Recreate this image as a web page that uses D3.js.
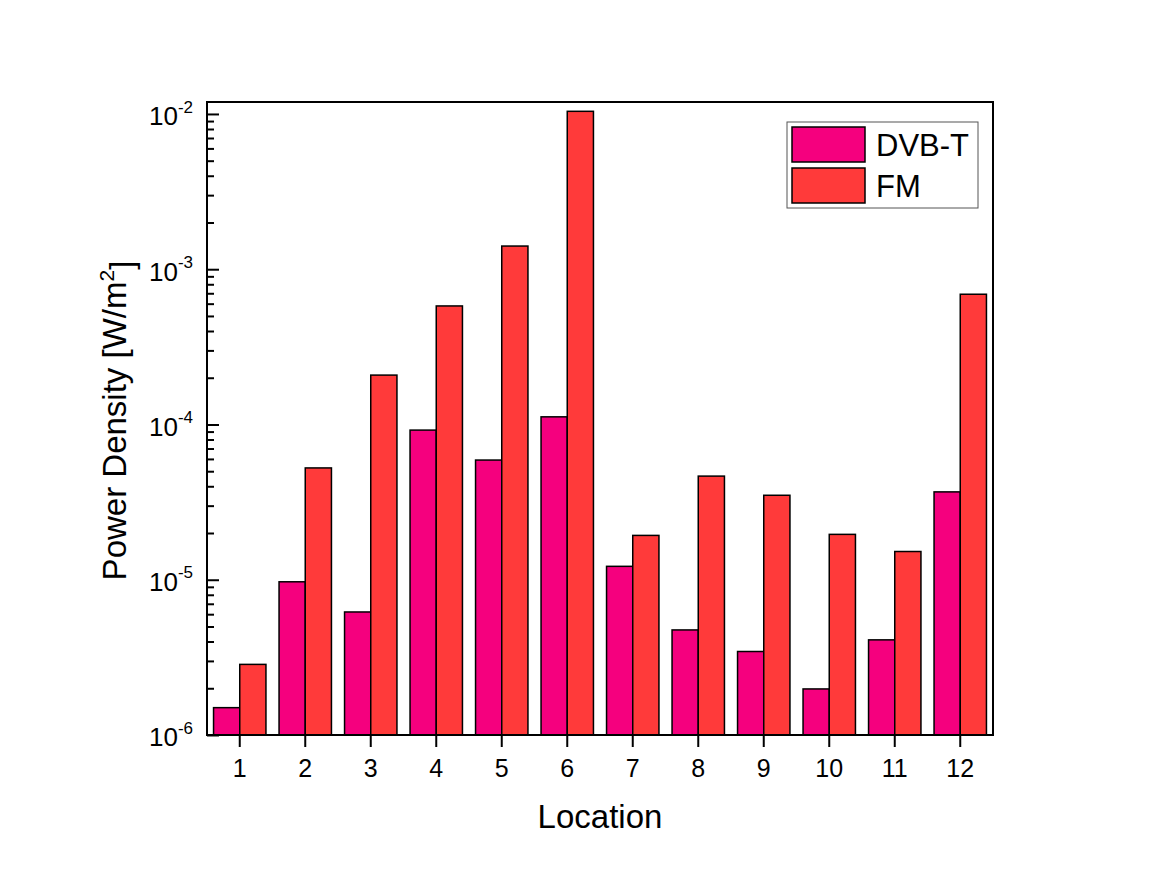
<!DOCTYPE html>
<html>
<head>
<meta charset="utf-8">
<script src="https://cdn.jsdelivr.net/npm/d3@7"></script>
<style>
  body { margin: 0; background: #fff; }
  text { font-family: Arial, "Liberation Sans", sans-serif; fill: #000; }
</style>
</head>
<body>
<div id="chart"></div>
<script>
const locations = [1, 2, 3, 4, 5, 6, 7, 8, 9, 10, 11, 12];
const seriesNames = ["DVB-T", "FM"];
const dvbt = [1.5e-6, 9.7e-6, 6.2e-6, 9.2e-5, 5.9e-5, 1.12e-4, 1.22e-5, 4.75e-6, 3.45e-6, 1.98e-6, 4.1e-6, 3.68e-5];
const fm = [2.85e-6, 5.25e-5, 2.08e-4, 5.8e-4, 1.41e-3, 1.04e-2, 1.93e-5, 4.65e-5, 3.5e-5, 1.96e-5, 1.52e-5, 6.9e-4];
const majorTicks = [1e-6, 1e-5, 1e-4, 1e-3, 1e-2];
const colors = { "DVB-T": "#F5007E", "FM": "#FF3A3A" };

const margin = { top: 102, right: 160, bottom: 147, left: 207 };
const width = 1153 - margin.left - margin.right;
const height = 882 - margin.top - margin.bottom;

const rows = locations.map((loc, i) => ({ loc, "DVB-T": dvbt[i], "FM": fm[i] }));

const svg = d3.select("#chart")
  .append("svg")
  .attr("width", 1153)
  .attr("height", 882);

const g = svg.append("g")
  .attr("transform", `translate(${margin.left},${margin.top})`);

const xScale = d3.scaleBand()
  .domain(locations)
  .range([0, width])
  .paddingInner(0.2)
  .paddingOuter(0.1);

const xSub = d3.scaleBand()
  .domain(seriesNames)
  .range([0, xScale.bandwidth()]);

const yScale = d3.scaleLog()
  .domain([1e-6, Math.pow(10, -1.923)])
  .range([height, 0]);

// bars
g.selectAll("g.group")
  .data(rows)
  .join("g")
  .attr("class", "group")
  .attr("transform", d => `translate(${xScale(d.loc)},0)`)
  .selectAll("rect")
  .data(d => seriesNames.map(s => ({ s, v: d[s] })))
  .join("rect")
  .attr("x", d => xSub(d.s))
  .attr("width", xSub.bandwidth())
  .attr("y", d => yScale(d.v))
  .attr("height", d => height - yScale(d.v))
  .attr("fill", d => colors[d.s])
  .attr("stroke", "#000")
  .attr("stroke-width", 1.5);

// x axis (outward ticks)
const xAxis = g.append("g")
  .attr("class", "x-axis")
  .attr("transform", `translate(0,${height})`)
  .call(d3.axisBottom(xScale).tickSizeInner(12).tickSizeOuter(0).tickPadding(12));
xAxis.select(".domain").remove();
xAxis.selectAll(".tick line").attr("stroke-width", 2);
xAxis.selectAll(".tick text").style("font-size", "25px");

// y minor ticks (inward)
const minorTicks = [];
for (let e = -6; e <= -3; e++) {
  for (let m = 2; m <= 9; m++) minorTicks.push(m * Math.pow(10, e));
}
const yMinor = g.append("g")
  .attr("class", "y-minor")
  .call(d3.axisLeft(yScale).tickValues(minorTicks).tickSizeInner(-7).tickSizeOuter(0).tickFormat(""));
yMinor.select(".domain").remove();
yMinor.selectAll(".tick line").attr("stroke-width", 2);

// y major ticks (inward) with power labels
const yAxis = g.append("g")
  .attr("class", "y-axis")
  .call(d3.axisLeft(yScale).tickValues(majorTicks).tickSizeInner(-12).tickSizeOuter(0).tickPadding(14));
yAxis.select(".domain").remove();
yAxis.selectAll(".tick line").attr("stroke-width", 2);
yAxis.selectAll(".tick text")
  .style("font-size", "26px")
  .attr("dy", "0.42em")
  .text("10")
  .append("tspan")
  .attr("dy", "-0.75em")
  .style("font-size", "17px")
  .text(d => Math.round(Math.log10(d)));

// frame
g.append("rect")
  .attr("x", 0)
  .attr("y", 0)
  .attr("width", width)
  .attr("height", height)
  .attr("fill", "none")
  .attr("stroke", "#000")
  .attr("stroke-width", 2);

// axis titles
svg.append("text")
  .attr("x", margin.left + width / 2)
  .attr("y", 828)
  .attr("text-anchor", "middle")
  .style("font-size", "33px")
  .text("Location");

const yTitle = svg.append("text")
  .attr("transform", `translate(126,${margin.top + height / 2 + 2}) rotate(-90)`)
  .attr("text-anchor", "middle")
  .style("font-size", "33px");
yTitle.append("tspan").text("Power Density [W/m");
yTitle.append("tspan").attr("dy", "-0.55em").style("font-size", "21px").text("2");
yTitle.append("tspan").attr("dy", "0.55em").text("]");

// legend
const legend = g.append("g")
  .attr("transform", "translate(580,20)");
legend.append("rect")
  .attr("width", 191)
  .attr("height", 86)
  .attr("fill", "#fff")
  .attr("stroke", "#555")
  .attr("stroke-width", 1);
const items = legend.selectAll("g.item")
  .data(seriesNames)
  .join("g")
  .attr("class", "item")
  .attr("transform", (d, i) => `translate(5,${5 + i * 41})`);
items.append("rect")
  .attr("width", 73)
  .attr("height", 35)
  .attr("fill", d => colors[d])
  .attr("stroke", "#000")
  .attr("stroke-width", 1.5);
items.append("text")
  .attr("x", 84)
  .attr("y", 29)
  .style("font-size", "31px")
  .text(d => d);
</script>
</body>
</html>
